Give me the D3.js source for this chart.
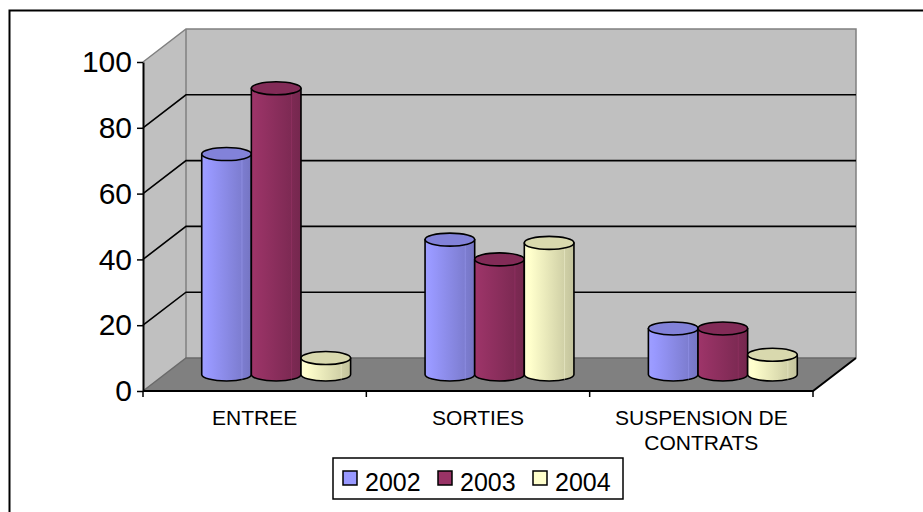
<!DOCTYPE html>
<html>
<head>
<meta charset="utf-8">
<script src="https://cdn.jsdelivr.net/npm/d3@7"></script>
<style>
  html, body { margin: 0; padding: 0; background: #fff; }
  svg { display: block; font-family: Arial, "Liberation Sans", sans-serif; }
</style>
</head>
<body>
<svg id="chart" width="923" height="512"></svg>
<script>
// Chart data
const categories = ["ENTREE", "SORTIES", "SUSPENSION DE CONTRATS"];
const years = ["2002", "2003", "2004"];
const values2002 = [67, 41, 14];
const values2003 = [87, 35, 14];
const values2004 = [5, 40, 6];
const yTicks = [0, 20, 40, 60, 80, 100];

const seriesValues = [values2002, values2003, values2004];
const seriesColors = ["#9999FF", "#993366", "#FFFFCC"];

const svg = d3.select("#chart");

// 3D box geometry: front plane plus a depth offset toward the upper right
const DX = 43, DY = -33;
const x = d3.scaleBand().domain(categories).range([143, 813]);
const y = d3.scaleLinear().domain([0, 100]).range([391, 62]);

// outer frame
svg.append("rect")
  .attr("x", 9.5).attr("y", 10.5).attr("width", 1000).attr("height", 1000)
  .attr("fill", "none").attr("stroke", "#000").attr("stroke-width", 2);

// gradients for the cylinder bodies
const defs = svg.append("defs");
seriesColors.forEach((c, i) => {
  const base = d3.color(c);
  const g = defs.append("linearGradient").attr("id", "grad" + i)
    .attr("x1", 0).attr("x2", 1).attr("y1", 0).attr("y2", 0);
  g.append("stop").attr("offset", 0).attr("stop-color", base.brighter(0.1).formatHex());
  g.append("stop").attr("offset", 0.12).attr("stop-color", base.formatHex());
  g.append("stop").attr("offset", 1).attr("stop-color", base.darker(0.75).formatHex());
});

const x0 = x.range()[0], x1 = x.range()[1];
const yTop = y(100), yBot = y(0);

// walls and floor
svg.append("polygon")
  .attr("points", [[x0, yTop], [x0 + DX, yTop + DY], [x0 + DX, yBot + DY], [x0, yBot]].join(" "))
  .attr("fill", "#C0C0C0");
svg.append("rect")
  .attr("x", x0 + DX).attr("y", yTop + DY)
  .attr("width", x1 - x0).attr("height", yBot - yTop)
  .attr("fill", "#C0C0C0");
svg.append("polygon")
  .attr("points", [[x0, yBot], [x0 + DX, yBot + DY], [x1 + DX, yBot + DY], [x1, yBot]].join(" "))
  .attr("fill", "#808080");

// gray wall edges
const edge = svg.append("g").attr("stroke", "#808080").attr("stroke-width", 1.5).attr("fill", "none");
edge.append("polyline")
  .attr("points", [[x0, yTop], [x0 + DX, yTop + DY], [x1 + DX, yTop + DY], [x1 + DX, yBot + DY]].join(" "));
edge.append("line")
  .attr("x1", x0 + DX).attr("y1", yTop + DY).attr("x2", x0 + DX).attr("y2", yBot + DY);
edge.append("polyline")
  .attr("points", [[x0, yBot], [x0 + DX, yBot + DY], [x1 + DX, yBot + DY]].join(" "))
  .attr("stroke", "#6a6a6a");

// gridlines across left and back walls
const grid = svg.append("g").attr("stroke", "#000").attr("stroke-width", 1.6).attr("fill", "none");
yTicks.filter(v => v > 0 && v < 100).forEach(v => {
  grid.append("polyline")
    .attr("points", [[x0, y(v)], [x0 + DX, y(v) + DY], [x1 + DX, y(v) + DY]].join(" "));
});

// floor front and right edges
svg.append("polyline")
  .attr("points", [[x0, yBot], [x1, yBot], [x1 + DX, yBot + DY]].join(" "))
  .attr("fill", "none").attr("stroke", "#000").attr("stroke-width", 2);

// cylinders, centered half-way into the depth
const gapRatio = 1.5;
const barW = x.bandwidth() / (years.length + gapRatio);
const rx = barW / 2, ry = 6.5;
const zx = DX / 2, zy = DY / 2;

const bars = svg.append("g");
categories.forEach((cat, ci) => {
  years.forEach((yr, si) => {
    const v = seriesValues[si][ci];
    const cx = x(cat) + barW * gapRatio / 2 + barW * si + rx + zx;
    const yt = y(v) + zy, yb = y(0) + zy;
    const g = bars.append("g");
    g.append("path")
      .attr("d", `M${cx - rx},${yt} L${cx - rx},${yb} A${rx},${ry} 0 0 0 ${cx + rx},${yb} L${cx + rx},${yt} Z`)
      .attr("fill", `url(#grad${si})`)
      .attr("stroke", "#000").attr("stroke-width", 1.6).attr("stroke-linejoin", "round");
    // faint facet line on the shaded side
    g.append("line")
      .attr("x1", cx + rx * 0.62).attr("x2", cx + rx * 0.62)
      .attr("y1", yt + ry * 0.8).attr("y2", yb + ry * 0.8)
      .attr("stroke", d3.color(seriesColors[si]).brighter(0.3).formatHex())
      .attr("stroke-opacity", 0.35).attr("stroke-width", 1);
    g.append("ellipse")
      .attr("cx", cx).attr("cy", yt).attr("rx", rx).attr("ry", ry)
      .attr("fill", d3.color(seriesColors[si]).darker(0.45).formatHex())
      .attr("stroke", "#000").attr("stroke-width", 1.6);
  });
});

// value axis
const yAxis = svg.append("g")
  .attr("transform", `translate(${x0},0)`)
  .call(d3.axisLeft(y).tickValues(yTicks).tickSize(6).tickSizeOuter(0).tickPadding(5));
yAxis.select(".domain").attr("stroke", "#000").attr("stroke-width", 2);
yAxis.selectAll(".tick line").attr("stroke", "#000").attr("stroke-width", 1.5);
yAxis.selectAll(".tick text")
  .attr("font-size", 30).attr("fill", "#000")
  .attr("font-family", "Arial, 'Liberation Sans', sans-serif");

// category ticks below the front floor edge
const catTicks = categories.map(c => x(c)).concat([x1]);
svg.append("g").selectAll("line").data(catTicks).join("line")
  .attr("x1", d => d).attr("x2", d => d)
  .attr("y1", yBot).attr("y2", yBot + 6)
  .attr("stroke", "#000").attr("stroke-width", 1.5);

// category labels, wrapped to the band width
const catFont = 21;
const labels = svg.append("g").attr("font-size", catFont).attr("text-anchor", "middle").attr("fill", "#000");
categories.forEach(cat => {
  const t = labels.append("text").attr("x", x(cat) + x.bandwidth() / 2).attr("y", yBot + 34);
  const words = cat.split(" ");
  let line = [];
  let tspan = t.append("tspan").attr("x", x(cat) + x.bandwidth() / 2).attr("dy", 0);
  words.forEach(w => {
    line.push(w);
    tspan.text(line.join(" "));
    if (tspan.node().getComputedTextLength() > x.bandwidth() - 20 && line.length > 1) {
      line.pop();
      tspan.text(line.join(" "));
      line = [w];
      tspan = t.append("tspan").attr("x", x(cat) + x.bandwidth() / 2).attr("dy", 25).text(w);
    }
  });
});

// legend
const legend = svg.append("g");
legend.append("rect")
  .attr("x", 333).attr("y", 458).attr("width", 290).attr("height", 41)
  .attr("fill", "#fff").attr("stroke", "#000").attr("stroke-width", 1.5);
years.forEach((yr, i) => {
  const lx = 343 + i * 95;
  legend.append("rect")
    .attr("x", lx).attr("y", 471).attr("width", 14).attr("height", 14)
    .attr("fill", seriesColors[i]).attr("stroke", "#000").attr("stroke-width", 1.5);
  legend.append("text")
    .attr("x", lx + 22).attr("y", 491)
    .attr("font-size", 25).attr("fill", "#000").text(yr);
});
</script>
</body>
</html>
